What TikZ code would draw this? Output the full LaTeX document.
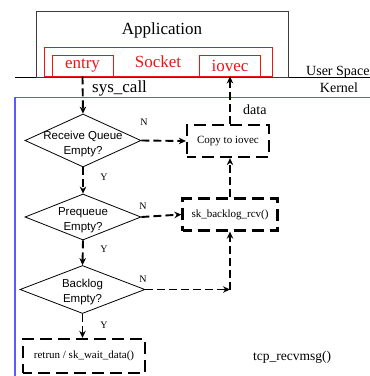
\documentclass[tikz,border=0pt]{standalone}
\usepackage{fontspec}
\setmainfont{Liberation Serif}
\setsansfont{Liberation Sans}
\usetikzlibrary{arrows.meta,shapes.geometric}
\definecolor{myblue}{RGB}{90,90,255}
\definecolor{myred}{RGB}{240,20,20}
\definecolor{appgray}{RGB}{60,60,60}
\tikzset{
  dbox/.style={draw, line width=2.3pt, dash pattern=on 12pt off 6pt, dash phase=3pt, inner sep=0pt, font=\fontsize{11}{13}\selectfont},
  redbox/.style={draw=myred, line width=0.9pt, inner sep=0pt, text=myred, font=\fontsize{17}{20}\selectfont},
  dia/.style={draw, diamond, inner sep=0pt, line width=0.8pt},
  diatext/.style={align=center, font=\sffamily\fontsize{11.5}{15}\selectfont, inner sep=0pt},
  arr/.style={line width=1.9pt, dash pattern=on 8pt off 4pt, -{Stealth[length=7pt,width=6.5pt]}},
  yn/.style={font=\fontsize{10}{12}\selectfont, inner sep=0pt},
}
\begin{document}
\begin{tikzpicture}[x=1pt,y=-1pt]
\useasboundingbox (0,0) rectangle (370,376);
% user space / kernel
\draw[line width=0.8pt] (15,77.5) -- (370,77.5);
\draw[myblue, line width=1.2pt] (15,376) -- (15,97.5) -- (370,97.5);
\node[anchor=west, font=\fontsize{14}{16}\selectfont, inner sep=0pt] (us) at (306,72) {User Space};
\node[font=\fontsize{14}{16}\selectfont, inner sep=0pt] (kern) at (339,88) {Kernel};
% application
\node[draw=appgray, line width=0.9pt, minimum width=252, minimum height=66, inner sep=0pt] (app) at (162,44) {};
\node[font=\fontsize{17}{20}\selectfont, inner sep=0pt] (apptext) at (162,30) {Application};
\node[redbox, minimum width=228, minimum height=29] (sock) at (158,61.5) {};
\node[text=myred, font=\fontsize{17}{20}\selectfont, inner sep=0pt] (socktext) at (158,62) {Socket};
\node[redbox, minimum width=61, minimum height=21] (entry) at (82.5,65.5) {entry};
\node[redbox, minimum width=61, minimum height=21] (iovec) at (230,65.5) {iovec};
% flow
\node[dia, minimum width=116, minimum height=53] (d1) at (83,140.5) {};
\node[diatext] (t1) at (83,144) {Receive Queue\\Empty?};
\node[dia, minimum width=116, minimum height=46] (d2) at (83,217) {};
\node[diatext] (t2) at (83,220) {Prequeue\\Empty?};
\node[dia, minimum width=125, minimum height=48] (d3) at (82.5,289.5) {};
\node[diatext] (t3) at (82.5,292) {Backlog\\Empty?};
\node[dbox, minimum width=82, minimum height=32] (copy) at (228,141) {Copy to iovec};
\node[dbox, minimum width=95, minimum height=32] (sk) at (230,214.5) {sk\_backlog\_rcv()};
\node[dbox, minimum width=122, minimum height=34] (ret) at (84,356) {retrun / sk\_wait\_data()};
\node[anchor=west, font=\fontsize{13.5}{16}\selectfont, inner sep=0pt] (tcp) at (253,357) {tcp\_recvmsg()};
\coordinate (c3) at (230,289.5);
% connectors
\draw[arr] (entry.south) -- (d1.north);
\node[anchor=west, font=\fontsize{17}{20}\selectfont, inner sep=0pt] (sys) at (92,88) {sys\_call};
\draw[arr] (copy.north -| iovec.south) -- (iovec.south);
\node[anchor=west, font=\fontsize{14}{16}\selectfont, inner sep=0pt] (data) at (243,110) {data};
\draw[arr] (d1.east) -- (copy.west);
\draw[arr] (d1.south) -- (d2.north);
\draw[arr] (d2.east) -- (sk.west);
\draw[arr] (sk.north) -- (sk.north |- copy.south);
\draw[arr] (d2.south) -- (d3.north);
\draw[arr] (d3.east) -- (c3);
\draw[arr] (c3) -- (sk.south);
\draw[arr] (d3.south) -- (ret.north -| d3.south);
% labels
\node[yn] (n1) at (144,122) {N};
\node[yn] (y1) at (104,177) {Y};
\node[yn] (n2) at (143,206) {N};
\node[yn] (y2) at (104,249) {Y};
\node[yn] (n3) at (143,279) {N};
\node[yn] (y3) at (104,325) {Y};
\end{tikzpicture}
\end{document}
